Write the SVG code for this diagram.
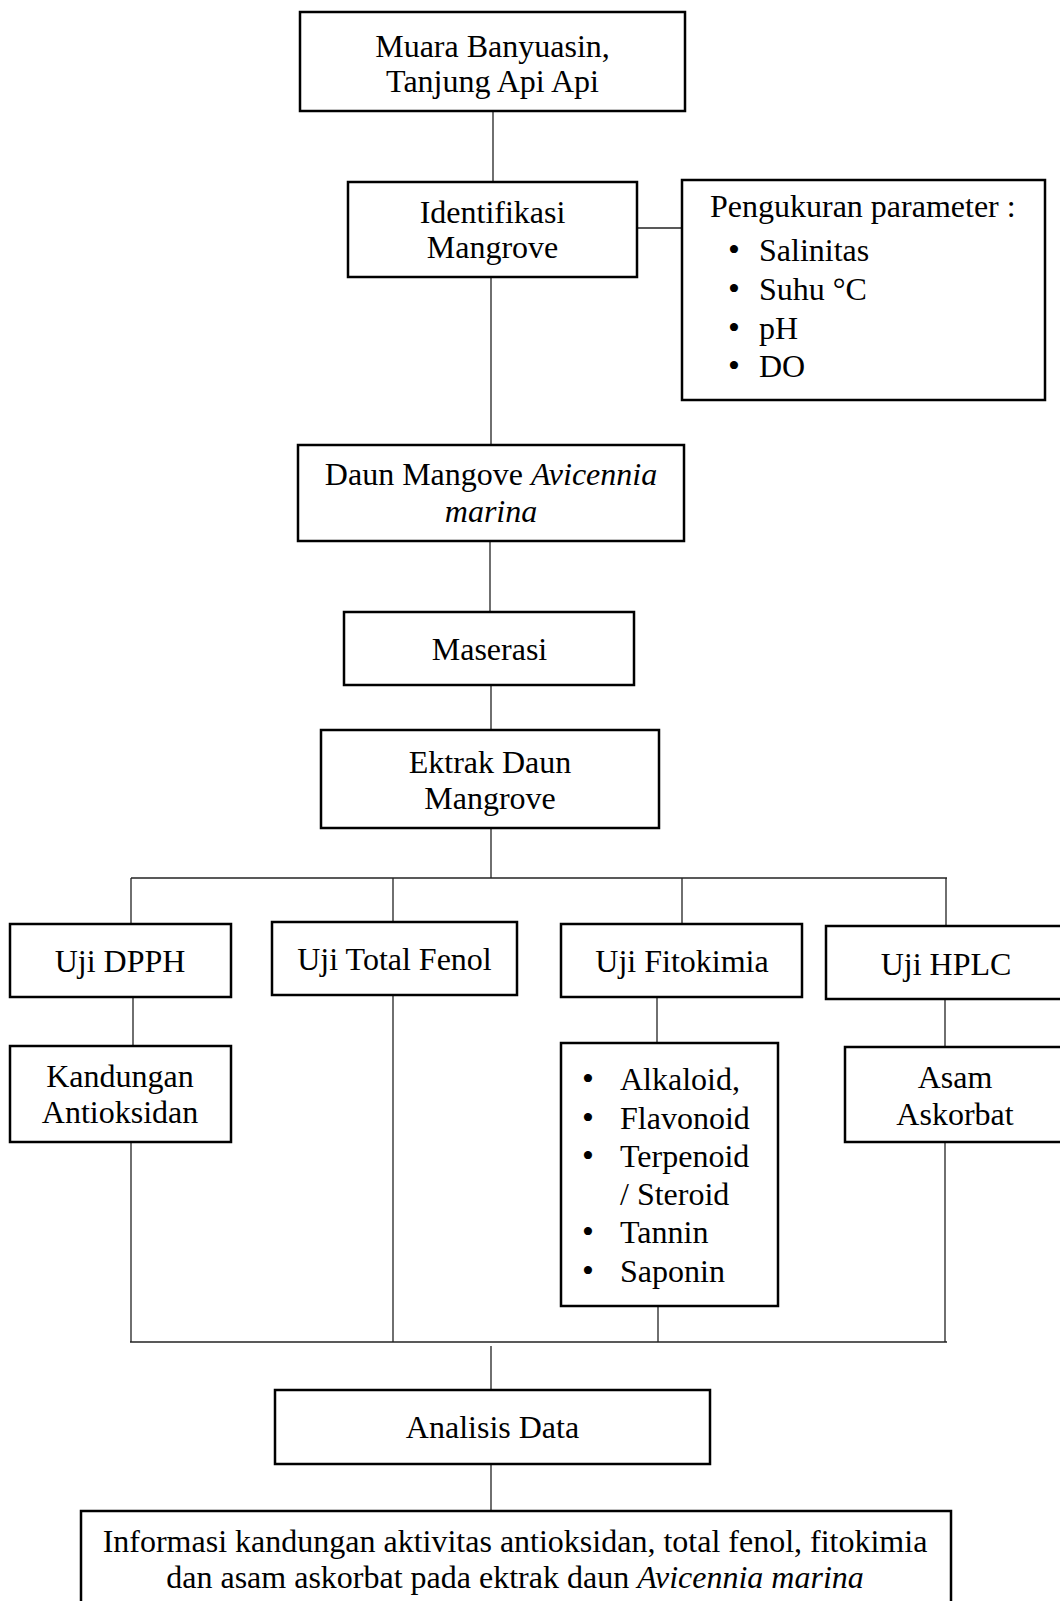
<svg xmlns="http://www.w3.org/2000/svg" width="1060" height="1601" viewBox="0 0 1060 1601">
<style>
.box{fill:#fff;stroke:#000;stroke-width:2.5}
.ln{fill:none;stroke:#222;stroke-width:1.3}
text{font-family:"Liberation Serif","Times New Roman",serif;font-size:32px;fill:#000}
.c{text-anchor:middle}
.i{font-style:italic}
.b{font-size:34px}
</style>
<rect width="1060" height="1601" fill="#fff"/>
<g id="connectors">
<line class="ln" x1="493" y1="111" x2="493" y2="182"/>
<line class="ln" x1="637" y1="228" x2="682" y2="228"/>
<line class="ln" x1="491" y1="277" x2="491" y2="445"/>
<line class="ln" x1="490" y1="541" x2="490" y2="612"/>
<line class="ln" x1="491" y1="685" x2="491" y2="730"/>
<line class="ln" x1="491" y1="828" x2="491" y2="878"/>
<line class="ln" x1="131" y1="878" x2="947" y2="878"/>
<line class="ln" x1="131" y1="878" x2="131" y2="924"/>
<line class="ln" x1="393" y1="878" x2="393" y2="922"/>
<line class="ln" x1="682" y1="878" x2="682" y2="924"/>
<line class="ln" x1="946" y1="878" x2="946" y2="926"/>
<line class="ln" x1="133" y1="997" x2="133" y2="1046"/>
<line class="ln" x1="657" y1="997" x2="657" y2="1043"/>
<line class="ln" x1="945" y1="999" x2="945" y2="1047"/>
<line class="ln" x1="131" y1="1142" x2="131" y2="1342"/>
<line class="ln" x1="393" y1="995" x2="393" y2="1342"/>
<line class="ln" x1="658" y1="1306" x2="658" y2="1342"/>
<line class="ln" x1="945" y1="1142" x2="945" y2="1342"/>
<line class="ln" x1="130" y1="1342" x2="947" y2="1342"/>
<line class="ln" x1="491" y1="1346" x2="491" y2="1390"/>
<line class="ln" x1="491" y1="1464" x2="491" y2="1510"/>
</g>
<g id="muara">
<rect class="box" x="300" y="12" width="385" height="99"/>
<text class="c" x="492.5" y="57">Muara Banyuasin,</text>
<text class="c" x="492.5" y="92">Tanjung Api Api</text>
</g>
<g id="identifikasi">
<rect class="box" x="348" y="182" width="289" height="95"/>
<text class="c" x="492.5" y="223">Identifikasi</text>
<text class="c" x="492.5" y="258">Mangrove</text>
</g>
<g id="parameter">
<rect class="box" x="682" y="180" width="363" height="220"/>
<text x="710" y="217">Pengukuran parameter :</text>
<text y="261"><tspan class="b" x="728">•</tspan><tspan x="759">Salinitas</tspan></text>
<text y="300"><tspan class="b" x="728">•</tspan><tspan x="759">Suhu °C</tspan></text>
<text y="339"><tspan class="b" x="728">•</tspan><tspan x="759">pH</tspan></text>
<text y="377"><tspan class="b" x="728">•</tspan><tspan x="759">DO</tspan></text>
</g>
<g id="daun">
<rect class="box" x="298" y="445" width="386" height="96"/>
<text class="c" x="491" y="485">Daun Mangove <tspan class="i">Avicennia</tspan></text>
<text class="c i" x="491" y="522">marina</text>
</g>
<g id="maserasi">
<rect class="box" x="344" y="612" width="290" height="73"/>
<text class="c" x="489.5" y="660">Maserasi</text>
</g>
<g id="ektrak">
<rect class="box" x="321" y="730" width="338" height="98"/>
<text class="c" x="490" y="773">Ektrak Daun</text>
<text class="c" x="490" y="809">Mangrove</text>
</g>
<g id="dpph">
<rect class="box" x="10" y="924" width="221" height="73"/>
<text class="c" x="120" y="972">Uji DPPH</text>
</g>
<g id="kandungan">
<rect class="box" x="10" y="1046" width="221" height="96"/>
<text class="c" x="120" y="1087">Kandungan</text>
<text class="c" x="120" y="1123">Antioksidan</text>
</g>
<g id="fenol">
<rect class="box" x="272" y="922" width="245" height="73"/>
<text class="c" x="394.5" y="970">Uji Total Fenol</text>
</g>
<g id="fitokimia">
<rect class="box" x="561" y="924" width="241" height="73"/>
<text class="c" x="682" y="972">Uji Fitokimia</text>
</g>
<g id="senyawa">
<rect class="box" x="561" y="1043" width="217" height="263"/>
<text y="1090"><tspan class="b" x="582">•</tspan><tspan x="620">Alkaloid,</tspan></text>
<text y="1129"><tspan class="b" x="582">•</tspan><tspan x="620">Flavonoid</tspan></text>
<text y="1167"><tspan class="b" x="582">•</tspan><tspan x="620">Terpenoid</tspan></text>
<text x="620" y="1205">/ Steroid</text>
<text y="1243"><tspan class="b" x="582">•</tspan><tspan x="620">Tannin</tspan></text>
<text y="1282"><tspan class="b" x="582">•</tspan><tspan x="620">Saponin</tspan></text>
</g>
<g id="hplc">
<rect class="box" x="826" y="926" width="250" height="73"/>
<text class="c" x="946" y="975">Uji HPLC</text>
</g>
<g id="asam">
<rect class="box" x="845" y="1047" width="231" height="95"/>
<text class="c" x="955" y="1088">Asam</text>
<text class="c" x="955" y="1125">Askorbat</text>
</g>
<g id="analisis">
<rect class="box" x="275" y="1390" width="435" height="74"/>
<text class="c" x="492.5" y="1438">Analisis Data</text>
</g>
<g id="informasi">
<rect class="box" x="81" y="1511" width="870" height="110"/>
<text class="c" x="515" y="1552">Informasi kandungan aktivitas antioksidan, total fenol, fitokimia</text>
<text class="c" x="515" y="1588">dan asam askorbat pada ektrak daun <tspan class="i">Avicennia marina</tspan></text>
</g>
</svg>
